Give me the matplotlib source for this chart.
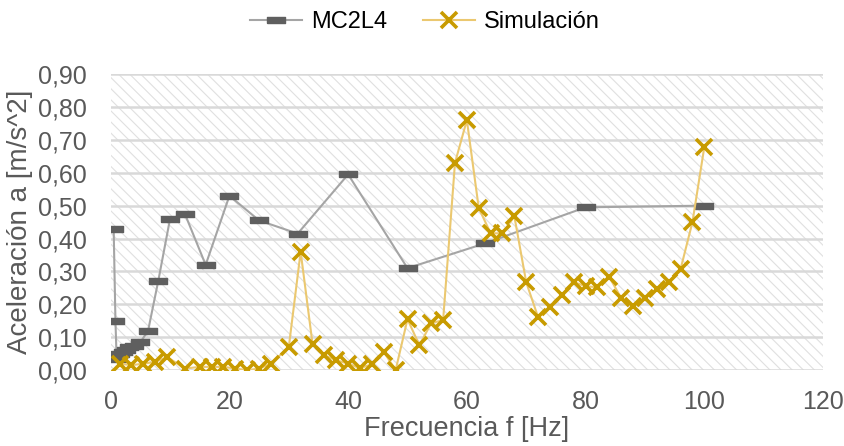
import matplotlib.pyplot as plt
from matplotlib.patches import Rectangle
from matplotlib.ticker import FuncFormatter

# ----------------- data -----------------
mc_f = [0.5, 0.8, 1, 1.25, 1.6, 2, 2.5, 3.15, 4, 5, 6.3, 8, 10, 12.5, 16, 20,
        25, 31.5, 40, 50, 63, 80, 100]
mc_a = [0.43, 0.15, 0.035, 0.045, 0.05, 0.055, 0.06, 0.07, 0.075, 0.085, 0.12,
        0.27, 0.46, 0.475, 0.32, 0.53, 0.455, 0.415, 0.595, 0.31, 0.385, 0.495, 0.50]

sim_f = [1.5, 3.5, 5.5, 7.5, 9.5, 12.5, 15, 17, 19, 21, 23, 25, 27,
         30, 32, 34, 36, 38, 40, 42, 44, 46, 48, 50, 52, 54, 56, 58, 60,
         62, 64, 66, 68, 70, 72, 74, 76, 78, 80, 82, 84, 86, 88, 90, 92,
         94, 96, 98, 100]
sim_a = [0.02, 0.015, 0.02, 0.025, 0.04, 0.005, 0.01, 0.01, 0.01, 0.005, 0.0, 0.005, 0.02,
         0.07, 0.36, 0.08, 0.045, 0.03, 0.02, 0.006, 0.018, 0.056, 0.0, 0.155, 0.076, 0.143, 0.152, 0.63, 0.76,
         0.493, 0.416, 0.416, 0.468, 0.267, 0.161, 0.192, 0.228, 0.268, 0.255, 0.252, 0.283, 0.219, 0.195, 0.219, 0.246,
         0.267, 0.307, 0.45, 0.678]

x_ticks = [0, 20, 40, 60, 80, 100, 120]
y_ticks = [0.0, 0.1, 0.2, 0.3, 0.4, 0.5, 0.6, 0.7, 0.8, 0.9]

# ----------------- plot -----------------
plt.rcParams['font.family'] = ['Liberation Sans', 'DejaVu Sans']
plt.rcParams['hatch.linewidth'] = 0.8

fig = plt.figure(figsize=(8.45, 4.46), dpi=100)
ax = fig.add_axes([0.131, 0.170, 0.843, 0.664])

# hatched plot area
bg = Rectangle((0, 0), 1, 1, transform=ax.transAxes, facecolor='white',
               edgecolor='#e0e0e0', hatch='\\\\\\', linewidth=0, zorder=0.2)
ax.add_patch(bg)

dash = [(-1, -0.3), (1, -0.3), (1, 0.3), (-1, 0.3), (-1, -0.3)]

ax.plot(mc_f, mc_a, color='#a5a5a5', lw=1.5, marker=dash, markersize=13,
        markerfacecolor='#5f5f5f', markeredgecolor='#5f5f5f', label='MC2L4', zorder=3)
ax.plot(sim_f, sim_a, color='#ebc870', lw=1.5, marker='x', markersize=12,
        markeredgewidth=2.6, markeredgecolor='#c89b00', label='Simulación', zorder=4)

ax.set_xlim(0, 120)
ax.set_ylim(0, 0.9)
ax.set_xticks(x_ticks)
ax.set_yticks(y_ticks)
ax.yaxis.set_major_formatter(FuncFormatter(lambda v, p: f"{v:.2f}".replace('.', ',')))
ax.tick_params(length=0, labelsize=18, labelcolor='#595959')
ax.tick_params(axis='y', pad=17)
ax.tick_params(axis='x', pad=14)

ax.yaxis.grid(True, color='#d9d9d9', lw=1.8)
ax.set_axisbelow(True)
for s in ax.spines.values():
    s.set_visible(False)

ax.set_xlabel("Frecuencia f [Hz]", fontsize=19.5, color='#595959', labelpad=2)
ax.set_ylabel("Aceleración a [m/s^2]", fontsize=20, color='#595959', labelpad=4)

fig.legend(loc='center', bbox_to_anchor=(0.503, 0.95), ncol=2, frameon=False,
           fontsize=17, handlelength=2.2, columnspacing=1.5, handletextpad=0.4)

fig.savefig("out.png", dpi=100)
